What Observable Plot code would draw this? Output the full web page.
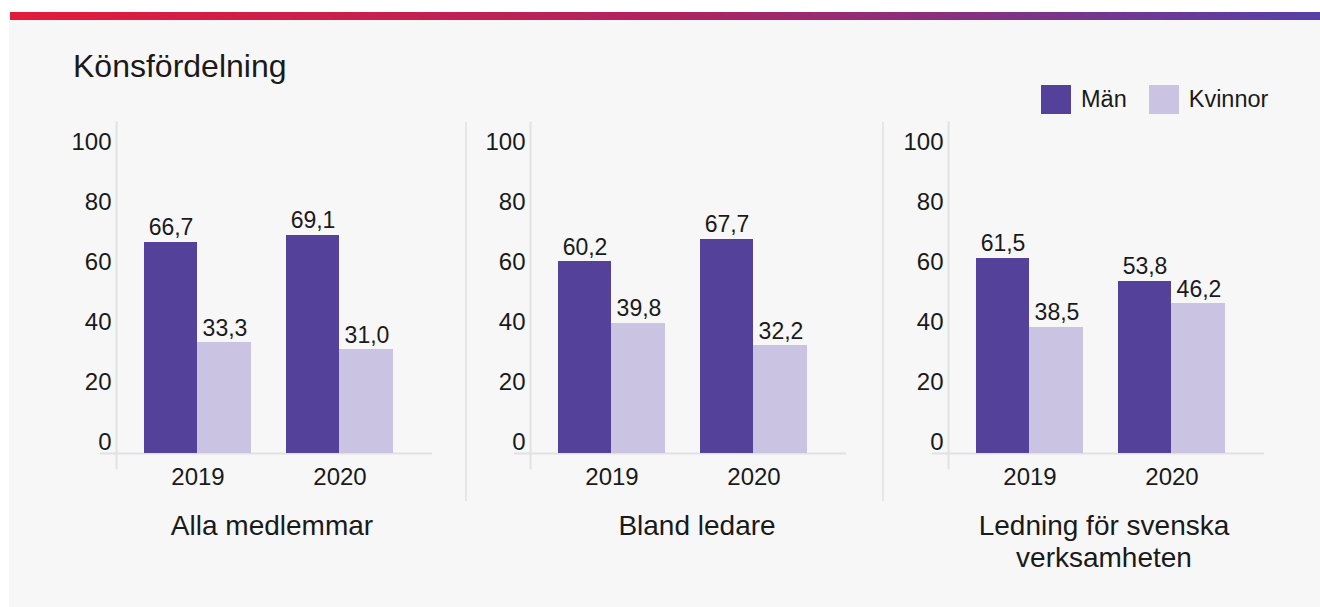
<!DOCTYPE html>
<html>
<head>
<meta charset="utf-8">
<script src="https://cdn.jsdelivr.net/npm/d3@7"></script>
<script src="https://cdn.jsdelivr.net/npm/@observablehq/plot@0.6"></script>
<style>
  html, body { margin: 0; padding: 0; background: #ffffff; }
  body { width: 1320px; height: 607px; position: relative; overflow: hidden;
         font-family: "Liberation Sans", Arial, Helvetica, sans-serif; color: #1a1a1a; }
  .topbar { position: absolute; left: 10px; top: 12px; width: 1310px; height: 8px;
            background: linear-gradient(to right, #e41b3b 0%, #b0235f 50%, #5540a8 100%); }
  .box { position: absolute; left: 9px; top: 20px; width: 1311px; height: 587px; background: #f7f7f7; }
  .title { position: absolute; left: 73px; top: 50px; font-size: 32px; line-height: 1; white-space: nowrap; }
  .legend { position: absolute; left: 1041px; top: 85px; height: 29px; display: flex; align-items: center;
            font-size: 23.5px; line-height: 1; }
  .legend .sw { width: 30px; height: 29px; margin-right: 10px; }
  .legend .item { display: flex; align-items: center; margin-right: 22px; }
  .sep { position: absolute; top: 122px; width: 2px; height: 379px; background: #e6e6e6; }
  .panel { position: absolute; top: 110px; }
  .ptitle { position: absolute; top: 510px; width: 360px; text-align: center; font-size: 28px; line-height: 32px; }
</style>
</head>
<body>
<div class="topbar"></div>
<div class="box"></div>
<div class="title">Könsfördelning</div>
<div class="legend" id="legend"></div>
<div id="root"></div>
<script>
// ---- data ----
const panels = ["Alla medlemmar", "Bland ledare", "Ledning för svenska verksamheten"];
const panelTitleLines = [["Alla medlemmar"], ["Bland ledare"], ["Ledning för svenska", "verksamheten"]];
const years = ["2019", "2020"];
const genders = ["Män", "Kvinnor"];
const manValues = [[66.7, 69.1], [60.2, 67.7], [61.5, 53.8]];
const kvinnorValues = [[33.3, 31.0], [39.8, 32.2], [38.5, 46.2]];
const yTicks = [0, 20, 40, 60, 80, 100];
const colors = ["#54419a", "#cbc3e2"];

// ---- layout ----
const panelLeft = [50, 464, 882];
const titleCenter = [272, 697, 1104];
const sepLeft = [465, 882];
const W = 416, H = 390, mL = 66, mR = 45, mT = 32, mB = 58;
const plotW = W - mL - mR;
const padIn = 0.245, padOut = 0.189;
const step = plotW / (years.length - padIn + 2 * padOut);
const half = step * (1 - padIn) / 2;

const fmt = v => d3.format(".1f")(v).replace(".", ",");
const axisColor = "#e2e2e2";

// legend
const legend = document.getElementById("legend");
genders.forEach((g, i) => {
  const it = document.createElement("div");
  it.className = "item";
  it.innerHTML = `<div class="sw" style="background:${colors[i]}"></div><span>${g}</span>`;
  legend.appendChild(it);
});

const root = document.getElementById("root");
sepLeft.forEach(x => {
  const s = document.createElement("div");
  s.className = "sep"; s.style.left = x + "px";
  root.appendChild(s);
});

panels.forEach((p, pi) => {
  const rows = [];
  years.forEach((y, yi) => {
    rows.push({panel: p, year: y, gender: genders[0], value: manValues[pi][yi]});
    rows.push({panel: p, year: y, gender: genders[1], value: kvinnorValues[pi][yi]});
  });
  const marks = [
    Plot.frame({anchor: "left", stroke: axisColor, strokeWidth: 2, insetTop: -20, insetBottom: -26}),
    Plot.ruleY([0], {stroke: axisColor, strokeWidth: 2, dy: 11, insetLeft: -16, insetRight: -11}),
    Plot.axisY({ticks: yTicks, tickSize: 0, tickPadding: 5, label: null, fontSize: 24, tickFormat: d => String(d)}),
    Plot.axisX({tickSize: 0, tickPadding: 25, label: null, fontSize: 24})
  ];
  genders.forEach((g, gi) => {
    const sub = rows.filter(d => d.gender === g);
    marks.push(Plot.barY(sub, {
      x: "year", y: "value", fill: colors[gi], shapeRendering: "crispEdges",
      insetLeft: gi === 0 ? 0 : half - 1, insetRight: gi === 0 ? half : 0, insetBottom: -11
    }));
    marks.push(Plot.text(sub, {
      x: "year", y: "value", text: d => fmt(d.value),
      dx: gi === 0 ? -half / 2 : half / 2, dy: -7, lineAnchor: "bottom",
      fontSize: 23, fill: "#1a1a1a"
    }));
  });
  const chart = Plot.plot({
    width: W, height: H, marginLeft: mL, marginRight: mR, marginTop: mT, marginBottom: mB,
    style: {background: "none", fontFamily: "'Liberation Sans', Arial, sans-serif", fontSize: "23px", color: "#1a1a1a", overflow: "visible"},
    x: {domain: years, paddingInner: padIn, paddingOuter: padOut, axis: null},
    y: {domain: [0, 100], axis: null},
    marks
  });
  const wrap = document.createElement("div");
  wrap.className = "panel";
  wrap.style.left = panelLeft[pi] + "px";
  wrap.appendChild(chart);
  root.appendChild(wrap);

  const t = document.createElement("div");
  t.className = "ptitle";
  t.style.left = (titleCenter[pi] - 180) + "px";
  t.innerHTML = panelTitleLines[pi].join("<br>");
  root.appendChild(t);
});
</script>
</body>
</html>
